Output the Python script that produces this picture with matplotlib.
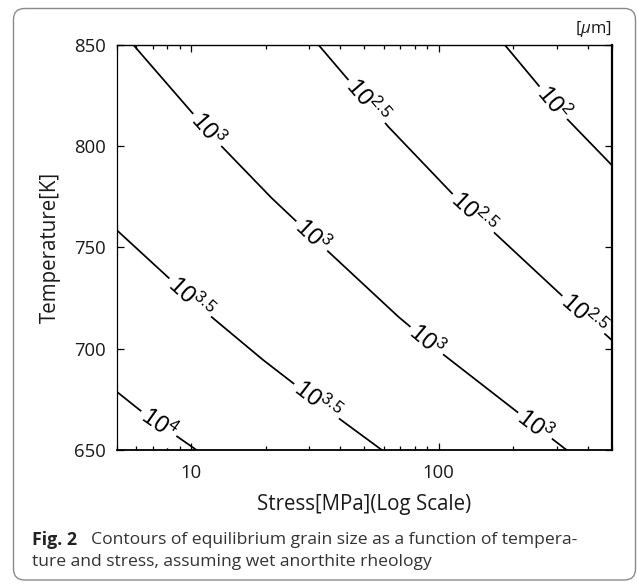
import numpy as np
import matplotlib
matplotlib.use('Agg')
import matplotlib.pyplot as plt
import matplotlib.ticker as tk
from matplotlib.patches import FancyBboxPatch
from matplotlib.transforms import IdentityTransform

plt.rcParams['mathtext.fontset'] = 'custom'
plt.rcParams['mathtext.rm'] = 'Open Sans'
plt.rcParams['mathtext.it'] = 'Open Sans:italic'

label_font = 'Open Sans'
contour_font = 'Liberation Sans'
ink = '#1a1a1a'

# contour lines: stress [MPa] vs temperature [K]
stress_4 = [5.0, 6.2, 8.6, 10.5]
temp_4 = [678.8, 669.7, 657.4, 650.0]

stress_35 = [5.0, 11.6, 19.5, 38.7, 58.9]
temp_35 = [758.6, 717.5, 694.5, 666.4, 650.0]

stress_3 = [5.84, 12.9, 21.1, 35.2, 68.7, 105, 206.5, 328.6]
temp_3 = [850.0, 801.5, 774.5, 748.8, 715.8, 696.9, 669.0, 650.0]

stress_25 = [32.7, 62.5, 113, 318, 500]
temp_25 = [850.0, 809.7, 776.8, 725.7, 704.3]

stress_2 = [185, 318.6, 500]
temp_2 = [850.0, 815.4, 790.7]

contours = [('4', stress_4, temp_4),
            ('3.5', stress_35, temp_35),
            ('3', stress_3, temp_3),
            ('2.5', stress_25, temp_25),
            ('2', stress_2, temp_2)]

# stress where each inline label sits
label_at = {'4': [7.4], '3.5': [9.9, 32.1], '3': [11.6, 30.7, 89.5, 245],
            '2.5': [51.2, 138, 384], '2': [290]}

x_ticks = [10, 100]
y_ticks = [650, 700, 750, 800, 850]


def t_on_line(s, t, x):
    return np.interp(np.log10(x), np.log10(s), t)


fig = plt.figure(figsize=(6.37, 5.84), dpi=100)
ax = fig.add_axes([0.1832, 0.2295, 0.7771, 0.6935])
ax.set_xscale('log')
ax.set_xlim(5, 500)
ax.set_ylim(650, 850)

for lev, s, t in contours:
    ax.plot(s, t, color='black', lw=1.25, zorder=2)

# inline labels: white box under the text breaks the line, kept below the spines
for lev, s, t in contours:
    for x in label_at[lev]:
        y = t_on_line(s, t, x)
        p0 = ax.transData.transform((x / 1.1, t_on_line(s, t, x / 1.1)))
        p1 = ax.transData.transform((x * 1.1, t_on_line(s, t, x * 1.1)))
        ang = np.degrees(np.arctan2(p1[1] - p0[1], p1[0] - p0[0]))
        ax.text(x, y, '10$^{\\mathregular{%s}}$' % lev, rotation=ang,
                rotation_mode='anchor', ha='center', va='center',
                fontsize=17, family=contour_font, color='black',
                bbox=dict(boxstyle='square,pad=0.12', fc='white', ec='none'),
                zorder=2.2, clip_on=True)

ax.xaxis.set_major_locator(tk.FixedLocator(x_ticks))
ax.xaxis.set_major_formatter(tk.FuncFormatter(lambda v, p: '%g' % v))
ax.xaxis.set_minor_locator(tk.LogLocator(base=10, subs=np.arange(2, 10)))
ax.xaxis.set_minor_formatter(tk.NullFormatter())
ax.set_yticks(y_ticks)

ax.tick_params(which='both', direction='in', top=True, right=True,
               colors='black', labelcolor=ink, labelsize=13.3, width=0.9)
ax.tick_params(which='major', length=5)
ax.tick_params(which='minor', length=3)
ax.tick_params(axis='x', pad=10)
ax.tick_params(axis='y', pad=8)
for lab in ax.get_xticklabels() + ax.get_yticklabels():
    lab.set_family(label_font)

ax.spines['left'].set_linewidth(0.9)
ax.spines['top'].set_linewidth(1.0)
ax.spines['bottom'].set_linewidth(1.3)
ax.spines['right'].set_linewidth(1.6)

ax.set_xlabel('Stress[MPa](Log Scale)', fontsize=14.8, family=label_font,
              color=ink, labelpad=9)
ax.set_ylabel('Temperature[K]', fontsize=14.8, family=label_font,
              color=ink, labelpad=9)
ax.text(1.0, 1.015, '[$\\mu$m]', transform=ax.transAxes, ha='right',
        va='bottom', fontsize=12, family=label_font, color=ink)

# caption
fig.text(31.7 / 637, 1 - 540 / 584, 'Fig. 2', weight='bold', va='center',
         fontsize=12.8, family=label_font, color='#222222')
fig.text(90.7 / 637, 1 - 540 / 584,
         'Contours of equilibrium grain size as a function of tempera-',
         va='center', fontsize=12.6, family=label_font, color='#333333')
fig.text(31.7 / 637, 1 - 562 / 584,
         'ture and stress, assuming wet anorthite rheology',
         va='center', fontsize=12.6, family=label_font, color='#333333')

# rounded frame around the whole figure
frame = FancyBboxPatch((13.5, 4), 622, 571.5,
                       boxstyle='round,pad=0,rounding_size=11',
                       transform=IdentityTransform(), fc='none',
                       ec='#8a8a8a', lw=1.0)
fig.add_artist(frame)

fig.savefig('out.png', dpi=100)
